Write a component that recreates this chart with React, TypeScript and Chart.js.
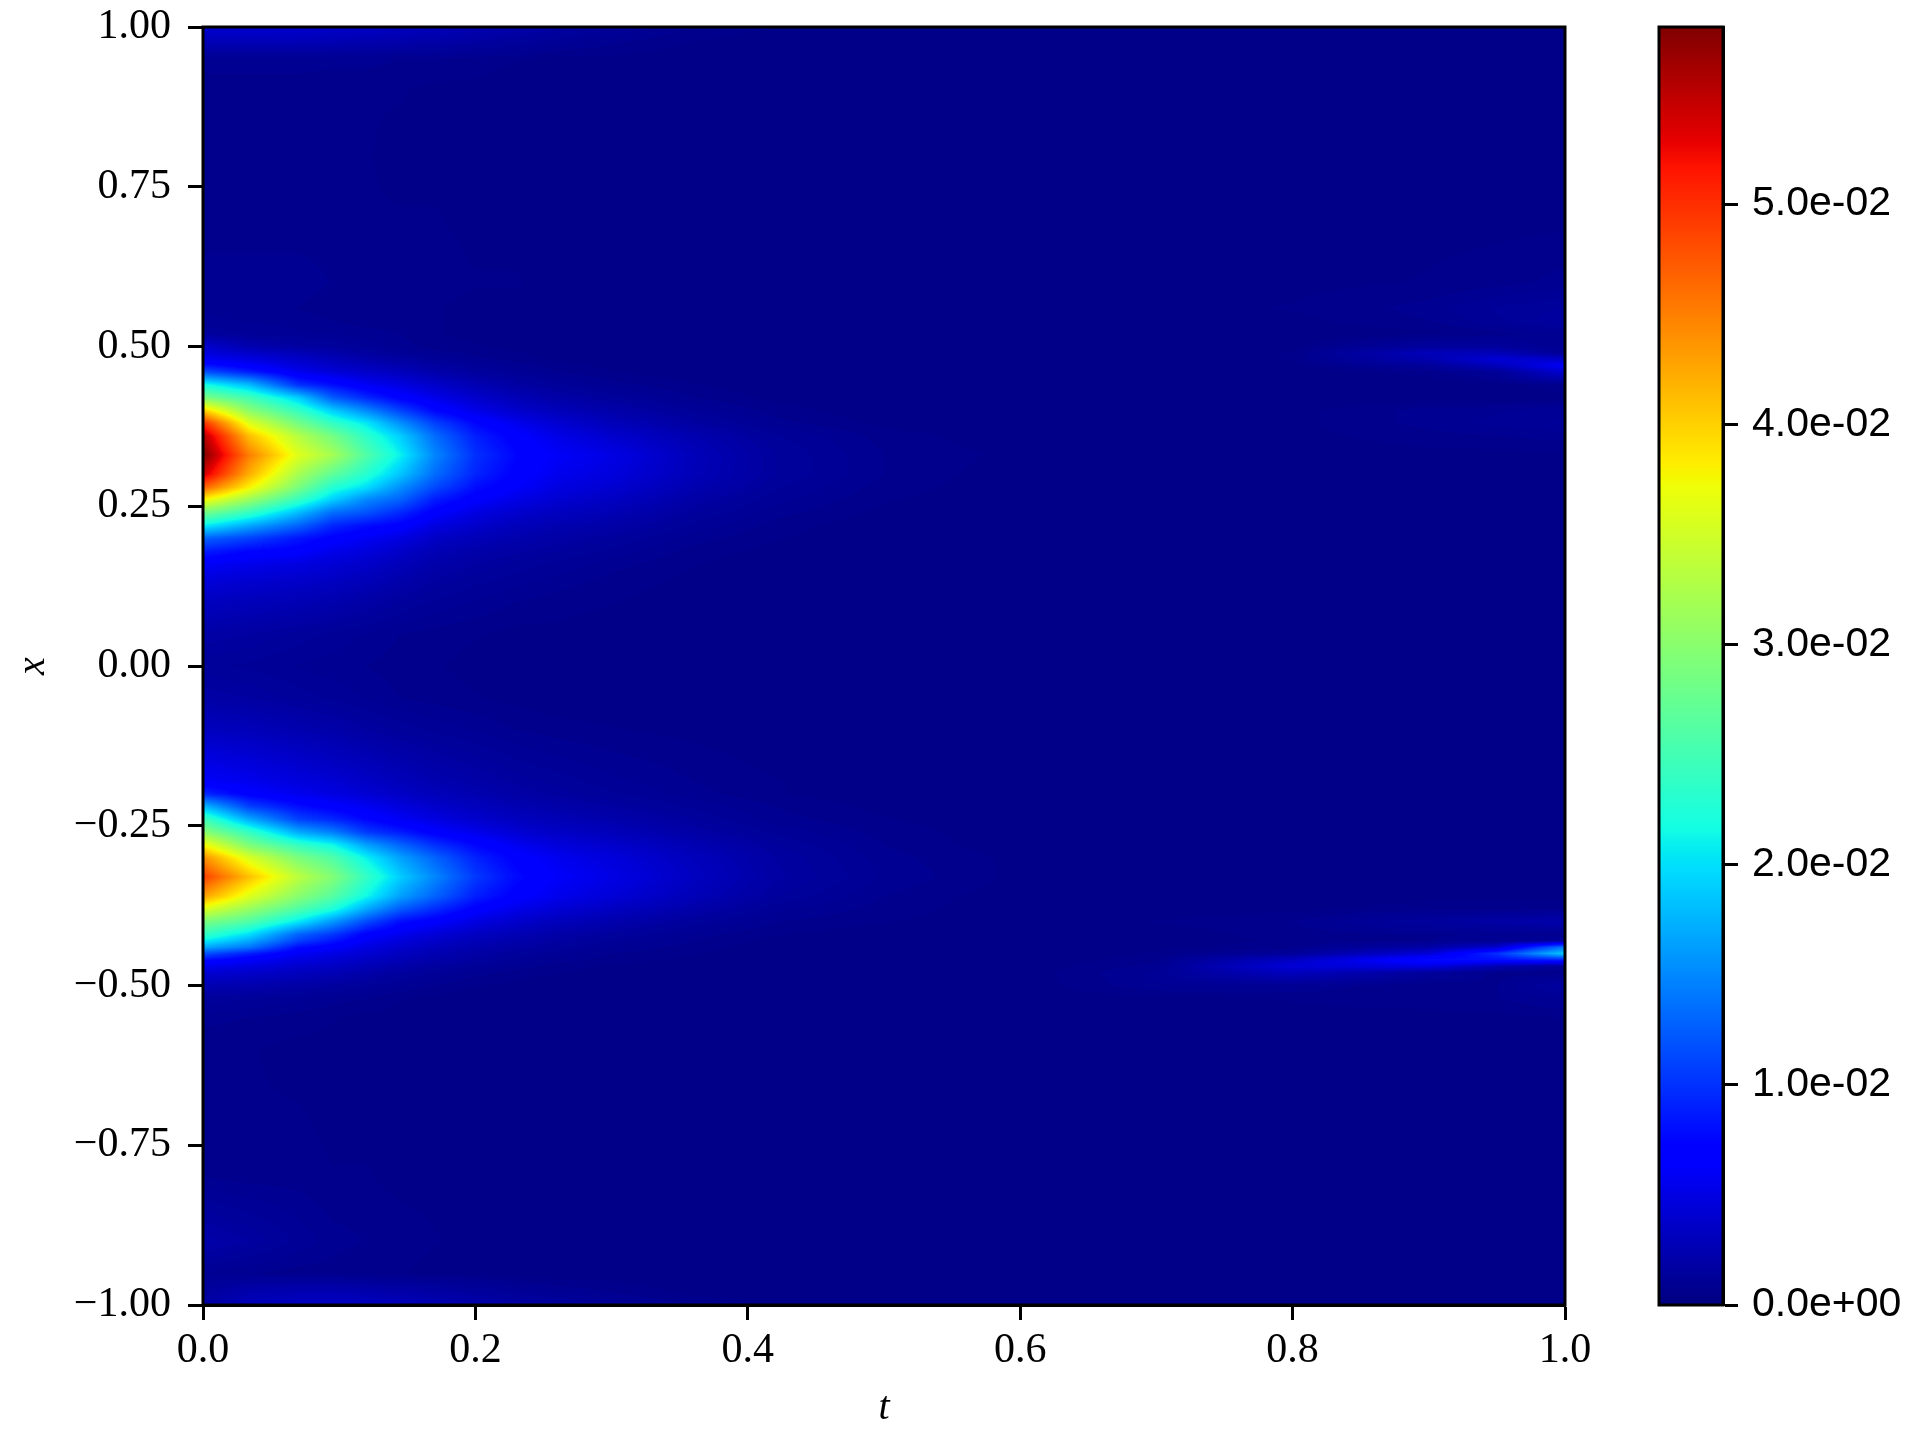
import React, { useEffect, useRef } from "react";
import { Chart, registerables } from "chart.js";

Chart.register(...registerables);

// Sample positions of the field
const tCols = [0, 0.034, 0.07, 0.095, 0.12, 0.145, 0.17, 0.2, 0.23, 0.26, 0.3, 0.36, 0.42, 0.5, 0.6, 0.7, 0.8, 0.9, 0.95, 1];
const xRows = [
  1, 0.98, 0.95, 0.9, 0.8, 0.7, 0.6,
  0.56, 0.54, 0.52, 0.5, 0.49, 0.48, 0.47, 0.46, 0.44, 0.42, 0.4, 0.38, 0.36, 0.33, 0.3, 0.28, 0.26, 0.24, 0.22, 0.2, 0.18, 0.16, 0.13, 0.1, 0.05,
  0,
  -0.05, -0.1, -0.15, -0.18, -0.2, -0.22, -0.24, -0.26, -0.28, -0.3, -0.33, -0.36, -0.38, -0.4, -0.42, -0.43, -0.44, -0.45, -0.46, -0.47, -0.48, -0.5, -0.52, -0.55,
  -0.6, -0.7, -0.8, -0.9, -0.95, -0.98, -1,
];
// Field values in units of 1e-3, one row per xRows entry, one column per tCols entry
const field = [
  [4.2,4.2,4,3.8,3.6,3.3,3,2.6,2.2,1.9,1.4,0.9,0.7,0.5,0.5,0.5,0.5,0.5,0.6,0.7],
  [3,3,3,2.8,2.6,2.4,2.2,1.9,1.6,1.3,1,0.7,0.5,0.5,0.5,0.5,0.5,0.5,0.5,0.6],
  [1,1,1,1,1,0.9,0.9,0.8,0.7,0.6,0.6,0.5,0.5,0.5,0.5,0.5,0.5,0.5,0.5,0.5],
  [0.8,0.8,0.8,0.7,0.7,0.7,0.6,0.6,0.5,0.5,0.5,0.5,0.5,0.5,0.5,0.5,0.5,0.5,0.5,0.5],
  [0.8,0.8,0.7,0.7,0.7,0.6,0.6,0.6,0.5,0.5,0.5,0.5,0.5,0.5,0.5,0.5,0.5,0.5,0.5,0.5],
  [0.8,0.8,0.8,0.8,0.7,0.7,0.7,0.6,0.6,0.5,0.5,0.5,0.5,0.5,0.5,0.5,0.5,0.6,0.6,0.6],
  [1,1,1,0.9,0.9,0.8,0.8,0.7,0.7,0.6,0.6,0.5,0.5,0.5,0.5,0.6,0.6,0.7,0.8,1],
  [1.1,1,0.9,0.8,0.8,0.7,0.7,0.6,0.6,0.5,0.5,0.5,0.5,0.5,0.5,0.6,0.7,1,1.4,1.6],
  [1.2,1.1,1,0.9,0.8,0.8,0.7,0.6,0.6,0.5,0.5,0.5,0.5,0.5,0.5,0.5,0.6,0.9,1.3,1.8],
  [1.6,1.3,1.2,1.1,1,0.9,0.7,0.6,0.6,0.5,0.5,0.5,0.5,0.5,0.5,0.5,0.5,0.6,0.8,1],
  [4,2.5,1.8,1.6,1.3,1,0.8,0.7,0.6,0.5,0.5,0.5,0.5,0.5,0.5,0.5,0.6,1.6,1.5,0.9],
  [4.8,3.8,2.8,2.2,1.7,1.3,1,0.8,0.7,0.6,0.5,0.5,0.5,0.5,0.5,0.5,0.7,3,2.8,1.2],
  [6,5,3.8,3,2.3,1.8,1.3,1,0.8,0.6,0.5,0.5,0.5,0.5,0.5,0.5,0.7,2.5,4.5,3.8],
  [8.5,6.5,4.6,3.7,3,2.4,1.8,1.3,1,0.8,0.6,0.5,0.5,0.5,0.5,0.5,0.6,1.4,3,6.2],
  [12,9,5.7,4.6,3.8,3.1,2.3,1.6,1.2,0.9,0.7,0.5,0.5,0.5,0.5,0.5,0.5,0.8,1.3,4],
  [22,18,10,8,6,5,3.8,2.7,1.9,1.4,1,0.7,0.5,0.5,0.5,0.5,0.5,0.5,0.6,0.8],
  [29,25,19,12.5,9.5,7,5.4,3.9,2.8,2.1,1.5,0.9,0.6,0.5,0.5,0.5,0.5,0.5,0.5,0.6],
  [40,30,24,19,15,11,7.5,5.3,3.9,3,2.2,1.3,0.8,0.5,0.5,0.5,0.6,1,1.1,1.3],
  [50,36,28.5,24,20.5,15.5,11,7.5,5.6,4.2,3,1.8,1,0.6,0.5,0.5,0.6,1,1.2,1.4],
  [55.5,41,33,28.5,23.5,19,13.5,9,6.8,5.3,4,2.5,1.4,0.8,0.5,0.5,0.6,0.8,0.9,1],
  [58,45,36,32,26,21,15,10,7.5,6.2,5.2,3,1.6,0.9,0.6,0.5,0.5,0.6,0.6,0.6],
  [54,42,32,27,23,18.5,13.5,9.3,7,5.7,4.8,2.9,1.6,0.9,0.5,0.5,0.5,0.5,0.6,0.6],
  [47,38,29,23,20,15.5,11.5,8,6.4,5,4.2,2.5,1.4,0.8,0.5,0.5,0.5,0.5,0.5,0.5],
  [37.5,31,24,19,15,12.8,8.8,6.6,5.2,4.2,3.4,2,1.2,0.7,0.5,0.5,0.5,0.5,0.5,0.5],
  [28.5,24,18,13.5,12,9.5,6.8,5,4,3.3,2.7,1.6,1,0.6,0.5,0.5,0.5,0.5,0.5,0.5],
  [21,17,13,9.5,8,7,5,3.9,3.1,2.5,2.1,1.3,0.8,0.5,0.5,0.5,0.5,0.5,0.5,0.5],
  [13,11,8.5,7,6,5,3.6,2.9,2.4,2,1.6,1,0.7,0.5,0.5,0.5,0.5,0.5,0.5,0.5],
  [9,7.5,6.8,5.5,4.8,3.8,2.8,2.2,1.9,1.6,1.3,0.8,0.6,0.5,0.5,0.5,0.5,0.5,0.5,0.5],
  [6.2,5.5,5,4.4,3.8,3,2.2,1.8,1.5,1.3,1,0.7,0.5,0.5,0.5,0.5,0.5,0.5,0.5,0.5],
  [4.5,4,3.7,3.3,2.8,2.2,1.7,1.4,1.2,1,0.8,0.6,0.5,0.5,0.5,0.5,0.5,0.5,0.5,0.5],
  [3.3,3,2.7,2.4,2,1.6,1.3,1.1,0.9,0.8,0.7,0.5,0.5,0.5,0.5,0.5,0.5,0.5,0.5,0.5],
  [2,1.8,1.5,1.3,1.1,0.9,0.8,0.7,0.6,0.6,0.5,0.5,0.5,0.5,0.5,0.5,0.5,0.5,0.5,0.5],
  [1.4,1.3,1.1,1,0.9,0.8,0.7,0.6,0.6,0.5,0.5,0.5,0.5,0.5,0.5,0.5,0.5,0.5,0.5,0.5],
  [2,1.8,1.5,1.3,1.1,0.9,0.8,0.7,0.6,0.5,0.5,0.5,0.5,0.5,0.5,0.5,0.5,0.5,0.5,0.5],
  [3.3,3,2.5,2.2,1.8,1.5,1.3,1.1,0.9,0.8,0.7,0.6,0.5,0.5,0.5,0.5,0.5,0.5,0.5,0.5],
  [5.2,4.6,3.9,3.4,2.9,2.4,2,1.7,1.4,1.2,1,0.8,0.6,0.5,0.5,0.5,0.5,0.5,0.5,0.5],
  [6.2,5.6,4.8,4.3,3.6,3,2.5,2.1,1.7,1.5,1.2,0.9,0.7,0.5,0.5,0.5,0.5,0.5,0.5,0.5],
  [9.5,6.8,5.6,5,4.3,3.6,3,2.5,2,1.7,1.4,1,0.7,0.5,0.5,0.5,0.5,0.5,0.5,0.5],
  [18,11,8,6.8,5.8,4.8,3.9,3.2,2.6,2.2,1.8,1.3,0.9,0.6,0.5,0.5,0.5,0.5,0.5,0.5],
  [25,17,11,9.5,7.5,6,5,4,3.3,2.8,2.3,1.6,1,0.7,0.5,0.5,0.5,0.5,0.5,0.5],
  [30,24,17,14.5,10.5,8.8,6.8,5.5,4.3,3.6,3,2,1.3,0.8,0.5,0.5,0.5,0.5,0.5,0.5],
  [37.5,29,24,21.5,16.5,13,10,7.5,5.8,4.7,3.9,2.6,1.6,0.9,0.5,0.5,0.5,0.5,0.5,0.5],
  [44,35.5,29,26,21,16.5,13,9.2,7,5.7,4.7,3.1,1.8,1,0.6,0.5,0.5,0.5,0.5,0.5],
  [49,41,33.5,29.5,24,19,15,10.5,7.8,6.3,5.2,3.4,1.9,1.1,0.6,0.5,0.5,0.6,0.6,0.6],
  [43,36,30,26.5,21.5,16.5,13,9,6.9,5.6,4.5,2.9,1.6,0.9,0.5,0.5,0.5,0.6,0.6,0.6],
  [36,31,26,22.5,17,12.5,9.8,7,5.4,4.4,3.4,2.2,1.2,0.8,0.5,0.5,0.6,0.8,0.8,0.9],
  [29,26,20.5,16,11.5,8,6.6,5,3.9,3.1,2.4,1.5,0.9,0.7,0.5,0.7,0.9,1.6,2,2.4],
  [24,20,13,10.5,7,5.6,4.5,3.4,2.7,2.1,1.6,1,0.7,0.5,0.5,0.5,0.8,0.9,0.9,0.8],
  [21,17,11,8.5,6,4.7,3.8,2.9,2.3,1.8,1.3,0.9,0.6,0.5,0.5,0.6,0.7,0.9,1,1.6],
  [17,14,8,6.6,5,4,3.1,2.4,1.9,1.5,1.1,0.8,0.5,0.5,0.5,0.6,0.8,2,4,14],
  [12,9,6,5.2,4.2,3.3,2.6,2,1.5,1.2,0.9,0.7,0.5,0.5,0.5,0.7,1.4,4.5,10,19],
  [8,6.3,5,4.3,3.5,2.8,2.2,1.7,1.3,1,0.8,0.6,0.5,0.5,0.5,0.8,3.5,8,8,9],
  [5.6,5,4,3.5,2.8,2.2,1.7,1.3,1,0.8,0.6,0.5,0.5,0.5,0.5,1,4.5,5,2.5,1.2],
  [4.3,3.8,3.2,2.8,2.2,1.7,1.3,1,0.8,0.7,0.6,0.5,0.5,0.5,0.5,1.2,3.2,1.5,0.8,0.7],
  [2.6,2.4,2,1.7,1.4,1.1,0.9,0.7,0.6,0.5,0.5,0.5,0.5,0.5,0.5,1.1,1.1,0.7,0.9,1.8],
  [1.5,1.4,1.2,1,0.9,0.7,0.6,0.5,0.5,0.5,0.5,0.5,0.5,0.5,0.5,0.6,0.7,0.8,0.9,1.2],
  [1,0.9,0.8,0.7,0.6,0.6,0.5,0.5,0.5,0.5,0.5,0.5,0.5,0.5,0.5,0.5,0.6,0.6,0.6,0.7],
  [0.7,0.7,0.6,0.6,0.6,0.6,0.5,0.5,0.5,0.5,0.5,0.5,0.5,0.5,0.5,0.5,0.5,0.5,0.5,0.5],
  [0.7,0.7,0.7,0.6,0.6,0.6,0.6,0.5,0.5,0.5,0.5,0.5,0.5,0.5,0.5,0.5,0.5,0.5,0.5,0.5],
  [0.9,0.8,0.8,0.7,0.7,0.6,0.6,0.5,0.5,0.5,0.5,0.5,0.5,0.5,0.5,0.5,0.5,0.5,0.5,0.5],
  [2.2,1.8,1.3,1,0.9,0.8,0.7,0.6,0.6,0.5,0.5,0.5,0.5,0.5,0.5,0.5,0.5,0.5,0.5,0.5],
  [1.1,0.9,0.8,0.8,0.7,0.7,0.6,0.6,0.5,0.5,0.5,0.5,0.5,0.5,0.5,0.5,0.5,0.5,0.5,0.5],
  [1.6,2.4,2.6,2.6,2.4,2.2,1.9,1.6,1.3,1.1,0.9,0.6,0.5,0.5,0.5,0.5,0.5,0.5,0.5,0.5],
  [2,3,3.4,3.6,3.4,3.1,2.8,2.4,2,1.7,1.3,0.9,0.6,0.5,0.5,0.5,0.5,0.5,0.5,0.5],
];

// Axis ticks
const tTicks = [0, 0.2, 0.4, 0.6, 0.8, 1];
const xTicks = [-1, -0.75, -0.5, -0.25, 0, 0.25, 0.5, 0.75, 1];
const cbarTicks = [0, 0.01, 0.02, 0.03, 0.04, 0.05];
const cbarLabels = ["0.0e+00", "1.0e-02", "2.0e-02", "3.0e-02", "4.0e-02", "5.0e-02"];
const cbarMax = 0.05804;
const fieldUnit = 1e-3;

// Jet colormap breakpoints
const jetR = [[0, 0], [0.35, 0], [0.66, 1], [0.89, 1], [1, 0.5]];
const jetG = [[0, 0], [0.125, 0], [0.375, 1], [0.64, 1], [0.91, 0], [1, 0]];
const jetB = [[0, 0.5], [0.11, 1], [0.34, 1], [0.65, 0], [1, 0]];

const SERIF = "'Liberation Serif', serif";
const SANS = "'Liberation Sans', sans-serif";

function channel(stops: number[][], v: number) {
  for (let i = 1; i < stops.length; i++) {
    if (v <= stops[i][0]) {
      const [a, p] = stops[i - 1];
      const [b, q] = stops[i];
      return p + ((q - p) * (v - a)) / (b - a);
    }
  }
  return stops[stops.length - 1][1];
}

function jet(v: number): [number, number, number] {
  const c = Math.max(0, Math.min(1, Math.floor(v * 256) / 255));
  return [channel(jetR, c) * 255, channel(jetG, c) * 255, channel(jetB, c) * 255];
}

function jetCss(v: number) {
  const [r, g, b] = jet(v);
  return `rgb(${Math.round(r)},${Math.round(g)},${Math.round(b)})`;
}

function bracket(list: number[], value: number, descending: boolean) {
  let i = 0;
  if (descending) {
    while (i < list.length - 2 && list[i + 1] > value) i++;
  } else {
    while (i < list.length - 2 && list[i + 1] < value) i++;
  }
  const f = (value - list[i]) / (list[i + 1] - list[i]);
  return [i, Math.max(0, Math.min(1, f))];
}

const frame = {
  id: "frame",
  afterDraw(chart: any) {
    const { ctx, chartArea: a } = chart;
    ctx.save();
    ctx.strokeStyle = "#000";
    ctx.lineWidth = 3;
    ctx.strokeRect(a.left, a.top, a.right - a.left, a.bottom - a.top);
    ctx.restore();
  },
};

// Shades the field between its samples (matplotlib's gouraud / smooth shading look)
const shading = {
  id: "shading",
  afterDatasetsDraw(chart: any) {
    const { ctx, chartArea: a, scales } = chart;
    const w = Math.round(a.right - a.left);
    const h = Math.round(a.bottom - a.top);
    const img = ctx.createImageData(w, h);
    const colIdx: number[][] = [];
    for (let px = 0; px < w; px++) {
      colIdx.push(bracket(tCols, scales.x.getValueForPixel(a.left + px + 0.5), false));
    }
    for (let py = 0; py < h; py++) {
      const [r, fr] = bracket(xRows, scales.y.getValueForPixel(a.top + py + 0.5), true);
      for (let px = 0; px < w; px++) {
        const [c, fc] = colIdx[px];
        const top = field[r][c] * (1 - fc) + field[r][c + 1] * fc;
        const bot = field[r + 1][c] * (1 - fc) + field[r + 1][c + 1] * fc;
        const val = (top * (1 - fr) + bot * fr) * fieldUnit;
        const [R, G, B] = jet(val / cbarMax);
        const k = (py * w + px) * 4;
        img.data[k] = R;
        img.data[k + 1] = G;
        img.data[k + 2] = B;
        img.data[k + 3] = 255;
      }
    }
    ctx.putImageData(img, Math.round(a.left), Math.round(a.top));
  },
};

const axisGrid = {
  drawOnChartArea: false,
  drawTicks: true,
  tickLength: 15,
  tickWidth: 3,
  tickColor: "#000",
};

export default function App() {
  const mainRef = useRef<HTMLCanvasElement>(null);
  const barRef = useRef<HTMLCanvasElement>(null);

  useEffect(() => {
    const points: any[] = [];
    xRows.forEach((x, r) => tCols.forEach((t, c) => points.push({ x: t, y: x, v: field[r][c] * fieldUnit })));

    const main = new Chart(mainRef.current as HTMLCanvasElement, {
      type: "scatter",
      data: {
        datasets: [
          {
            data: points,
            pointStyle: "rect",
            pointRadius: 8,
            borderWidth: 0,
            pointBackgroundColor: (c: any) => jetCss((c.raw ? c.raw.v : 0) / cbarMax),
          },
        ],
      },
      options: {
        responsive: false,
        animation: false,
        layout: { padding: { top: 27, right: 75, left: 0, bottom: 0 } },
        plugins: { legend: { display: false }, tooltip: { enabled: false } },
        scales: {
          x: {
            type: "linear",
            min: 0,
            max: 1,
            afterBuildTicks: (s: any) => { s.ticks = tTicks.map((value) => ({ value })); },
            afterFit: (s: any) => { s.height = 135; s.paddingLeft = 0; s.paddingRight = 0; },
            border: { display: true, color: "#000", width: 3 },
            grid: axisGrid,
            ticks: {
              autoSkip: false,
              maxRotation: 0,
              minRotation: 0,
              padding: 6,
              color: "#000",
              font: { family: SERIF, size: 42 },
              callback: (v: any) => Number(v).toFixed(1),
            },
            title: {
              display: true,
              text: "t",
              color: "#000",
              padding: { top: 0, bottom: 8 },
              font: { family: SERIF, size: 40, style: "italic" },
            },
          },
          y: {
            type: "linear",
            min: -1,
            max: 1,
            afterBuildTicks: (s: any) => { s.ticks = xTicks.map((value) => ({ value })); },
            afterFit: (s: any) => { s.width = 203; s.paddingTop = 0; s.paddingBottom = 0; },
            border: { display: true, color: "#000", width: 3 },
            grid: axisGrid,
            ticks: {
              autoSkip: false,
              padding: 17,
              color: "#000",
              font: { family: SERIF, size: 42 },
              callback: (v: any) => Number(v).toFixed(2).replace("-", "\u2212"),
            },
            title: {
              display: true,
              text: "x",
              color: "#000",
              padding: { top: 9, bottom: 0 },
              font: { family: SERIF, size: 40, style: "italic" },
            },
          },
        },
      },
      plugins: [shading, frame],
    } as any);

    const bar = new Chart(barRef.current as HTMLCanvasElement, {
      type: "bar",
      data: {
        labels: [""],
        datasets: [
          {
            data: [[0, cbarMax]],
            barPercentage: 1,
            categoryPercentage: 1,
            borderWidth: 0,
            backgroundColor: (c: any) => {
              const a = c.chart.chartArea;
              if (!a) return "#000";
              const g = c.chart.ctx.createLinearGradient(0, a.bottom, 0, a.top);
              for (let i = 0; i <= 255; i++) g.addColorStop(i / 255, jetCss(i / 255));
              return g;
            },
          },
        ],
      },
      options: {
        responsive: false,
        animation: false,
        layout: { padding: { top: 27, left: 19, right: 0, bottom: 135 } },
        plugins: { legend: { display: false }, tooltip: { enabled: false } },
        scales: {
          x: { display: false },
          y: {
            position: "right",
            min: 0,
            max: cbarMax,
            afterBuildTicks: (s: any) => { s.ticks = cbarTicks.map((value) => ({ value })); },
            afterFit: (s: any) => { s.width = 197; s.paddingTop = 0; s.paddingBottom = 0; },
            border: { display: true, color: "#000", width: 3 },
            grid: axisGrid,
            ticks: {
              autoSkip: false,
              padding: 14,
              color: "#000",
              font: { family: SANS, size: 41 },
              callback: (v: any) => cbarLabels[cbarTicks.indexOf(v)] ?? "",
            },
          },
        },
      },
      plugins: [frame],
    } as any);

    return () => {
      main.destroy();
      bar.destroy();
    };
  }, []);

  return (
    <div style={{ position: "absolute", left: 0, top: 0, width: 1920, height: 1440, background: "#fff" }}>
      <canvas ref={mainRef} width={1640} height={1440} style={{ position: "absolute", left: 0, top: 0, display: "block" }} />
      <canvas ref={barRef} width={280} height={1440} style={{ position: "absolute", left: 1640, top: 0, display: "block" }} />
    </div>
  );
}
